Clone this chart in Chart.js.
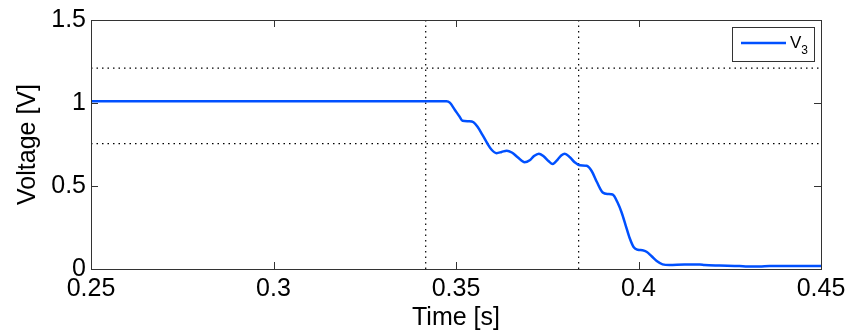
<html>
<head>
    <style>
        body { margin: 0; background: #fff; }
    </style>
    <script src="https://cdn.jsdelivr.net/npm/chart.js@4"></script>
    <script>
        // Time [s]
        var timeValues = [0.25, 0.3474, 0.3483, 0.3497, 0.3510, 0.3518, 0.3535, 0.3548, 0.3559, 0.3572,
            0.3586, 0.3597, 0.3611, 0.3625, 0.3639, 0.3653, 0.3669, 0.3688, 0.3702, 0.3713,
            0.3727, 0.3740, 0.3754, 0.3765, 0.3779, 0.3789, 0.3798, 0.3812, 0.3825, 0.3839,
            0.3858, 0.3872, 0.3886, 0.3902, 0.3916, 0.3929, 0.3943, 0.3954, 0.3965, 0.3976,
            0.3987, 0.3998, 0.4011, 0.4022, 0.4036, 0.4050, 0.4066, 0.4085, 0.4126, 0.4168,
            0.4181, 0.4222, 0.4277, 0.4299, 0.4332, 0.4359, 0.4414, 0.45];
        // V3 [V]
        var v3Values = [1.010, 1.010, 1.002, 0.958, 0.917, 0.893, 0.890, 0.884, 0.857, 0.810,
            0.756, 0.720, 0.698, 0.705, 0.713, 0.702, 0.673, 0.643, 0.655, 0.679,
            0.695, 0.679, 0.649, 0.633, 0.661, 0.685, 0.695, 0.673, 0.643, 0.625,
            0.622, 0.589, 0.524, 0.461, 0.452, 0.449, 0.399, 0.339, 0.262, 0.185,
            0.131, 0.116, 0.113, 0.104, 0.077, 0.048, 0.028, 0.024, 0.027, 0.027,
            0.024, 0.021, 0.018, 0.015, 0.015, 0.018, 0.018, 0.018];

        // dotted reference lines
        var timeMarkers = [0.3417, 0.3836];
        var voltMarkers = [1.21, 0.755];

        var xTicks = [0.25, 0.3, 0.35, 0.4, 0.45];
        var xTickLabels = ["0.25", "0.3", "0.35", "0.4", "0.45"];
        var yTicks = [0, 0.5, 1, 1.5];
        var yTickLabels = ["0", "0.5", "1", "1.5"];

        var legendLabel = "V";
        var legendSub = "3";
        var xTitle = "Time [s]";
        var yTitle = "Voltage [V]";

        var fontName = "'Liberation Sans', Arial, sans-serif";

        // box around the axes with inward ticks, matlab style
        var boxPlugin = {
            id: 'box',
            afterDraw: function(chart) {
                var ctx = chart.ctx;
                var a = chart.chartArea;
                var xs = chart.scales.x, ys = chart.scales.y;
                var tl = 7;
                ctx.save();
                ctx.strokeStyle = '#333';
                ctx.lineWidth = 1;
                ctx.strokeRect(a.left + 0.5, a.top + 0.5, a.right - a.left, a.bottom - a.top);
                ctx.beginPath();
                for (var i = 0; i < xTicks.length; i++) {
                    var px = Math.round(xs.getPixelForValue(xTicks[i])) + 0.5;
                    ctx.moveTo(px, a.bottom); ctx.lineTo(px, a.bottom - tl);
                    ctx.moveTo(px, a.top); ctx.lineTo(px, a.top + tl);
                }
                for (var j = 0; j < yTicks.length; j++) {
                    var py = Math.round(ys.getPixelForValue(yTicks[j])) + 0.5;
                    ctx.moveTo(a.left, py); ctx.lineTo(a.left + tl, py);
                    ctx.moveTo(a.right, py); ctx.lineTo(a.right - tl, py);
                }
                ctx.stroke();

                // legend
                var lx = a.right - 89, ly = a.top + 7, lw = 82, lh = 34;
                ctx.fillStyle = '#fff';
                ctx.fillRect(lx, ly, lw, lh);
                ctx.strokeStyle = '#333';
                ctx.strokeRect(lx + 0.5, ly + 0.5, lw, lh);
                var ds = chart.data.datasets[0];
                ctx.strokeStyle = ds.borderColor;
                ctx.lineWidth = 2.5;
                ctx.beginPath();
                ctx.moveTo(lx + 9, ly + 16);
                ctx.lineTo(lx + 54, ly + 16);
                ctx.stroke();
                ctx.fillStyle = '#000';
                ctx.textBaseline = 'alphabetic';
                ctx.font = "17px " + fontName;
                ctx.fillText(legendLabel, lx + 58, ly + 21);
                var vw = ctx.measureText(legendLabel).width;
                ctx.font = "12px " + fontName;
                ctx.fillText(legendSub, lx + 58 + vw, ly + 27);
                ctx.restore();
            }
        };

        function load() {
            var points = [];
            for (var i = 0; i < timeValues.length; i++) {
                points.push({x: timeValues[i], y: v3Values[i]});
            }

            var datasets = [{
                label: legendLabel + legendSub,
                data: points,
                borderColor: '#0050ff',
                borderWidth: 2.5,
                pointRadius: 0,
                cubicInterpolationMode: 'monotone',
                fill: false
            }];

            for (var t of timeMarkers) {
                datasets.push({
                    data: [{x: t, y: yTicks[0]}, {x: t, y: yTicks[yTicks.length - 1]}],
                    borderColor: '#000', borderWidth: 1.2, borderDash: [1.5, 4],
                    pointRadius: 0, fill: false
                });
            }
            for (var v of voltMarkers) {
                datasets.push({
                    data: [{x: xTicks[0], y: v}, {x: xTicks[xTicks.length - 1], y: v}],
                    borderColor: '#000', borderWidth: 1.2, borderDash: [1.5, 4],
                    pointRadius: 0, fill: false
                });
            }

            var ctx = document.getElementById('myChart').getContext('2d');
            var chart = new Chart(ctx, {
                type: 'line',
                data: { datasets: datasets },
                options: {
                    responsive: false,
                    animation: false,
                    layout: { padding: { left: 0, right: 42, top: 17, bottom: 0 } },
                    plugins: {
                        legend: { display: false },
                        tooltip: { enabled: false }
                    },
                    scales: {
                        x: {
                            type: 'linear',
                            min: xTicks[0],
                            max: xTicks[xTicks.length - 1],
                            afterBuildTicks: function(scale) {
                                scale.ticks = xTicks.map(function(v) { return {value: v}; });
                            },
                            afterFit: function(scale) { scale.height = 61; },
                            grid: { display: false, drawTicks: false },
                            border: { display: false },
                            ticks: {
                                padding: 5,
                                maxRotation: 0,
                                autoSkip: false,
                                color: '#000',
                                font: { family: fontName, size: 25 },
                                callback: function(value, index) { return xTickLabels[index]; }
                            },
                            title: {
                                display: true,
                                text: xTitle,
                                color: '#000',
                                padding: { top: 0, bottom: 0 },
                                font: { family: fontName, size: 25, lineHeight: 0.96 }
                            }
                        },
                        y: {
                            min: yTicks[0],
                            max: yTicks[yTicks.length - 1],
                            afterBuildTicks: function(scale) {
                                scale.ticks = yTicks.map(function(v) { return {value: v}; });
                            },
                            afterFit: function(scale) { scale.width = 91; },
                            grid: { display: false, drawTicks: false },
                            border: { display: false },
                            ticks: {
                                padding: 5,
                                autoSkip: false,
                                color: '#000',
                                font: { family: fontName, size: 25 },
                                callback: function(value, index) { return yTickLabels[index]; }
                            },
                            title: {
                                display: true,
                                text: yTitle,
                                color: '#000',
                                padding: { top: 13, bottom: 0 },
                                font: { family: fontName, size: 25 }
                            }
                        }
                    }
                },
                plugins: [boxPlugin]
            });
        }
    </script>
</head>
<body>
<canvas id="myChart" width="863" height="330"></canvas>
<script>load();</script>
</body>
</html>
